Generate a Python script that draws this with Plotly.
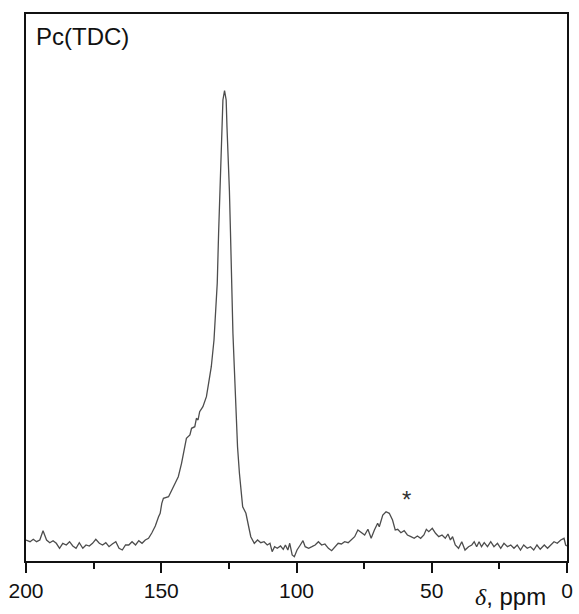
import plotly.graph_objects as go

# chemical shift (ppm) and intensity (arbitrary units)
ppm = [200.0, 198.5, 197.3, 196.1, 194.9, 193.7, 192.4, 191.2, 190.0, 188.8, 187.6, 186.4, 185.1,
       183.9, 182.7, 181.5, 180.3, 179.0, 177.8, 176.6, 175.4, 174.2, 172.9, 171.7, 170.5, 169.3,
       168.1, 166.8, 165.6, 164.4, 163.2, 162.0, 160.8, 159.5, 158.3, 157.1, 155.9, 154.7,
       153.5, 152.2, 151.0, 150.4, 149.8, 149.2, 147.3, 146.1, 144.9, 143.7, 142.5, 141.2, 140.7,
       139.4, 138.8, 137.6, 137.0, 136.4, 135.8, 134.6, 133.3, 132.5, 131.5, 130.5, 129.9, 129.3,
       128.8, 128.4, 128.3, 128.1, 127.6, 127.2, 126.6, 126.0, 125.7, 125.2, 124.8, 124.4, 124.0,
       123.5, 123.0, 122.6, 122.4, 121.8, 121.1, 120.5, 119.9, 118.7, 118.1, 117.5, 116.9, 115.6,
       114.4, 113.2, 112.0, 110.8, 109.8, 109.0, 108.1, 107.1, 105.9, 104.9, 104.1, 103.2, 102.5,
       101.6, 100.8, 99.8, 98.6, 97.6, 96.8, 95.5, 94.3, 93.1, 91.9, 90.7, 89.5, 88.2, 87.0, 85.8,
       84.6, 83.4, 82.2, 80.9, 79.7, 78.5, 77.3, 76.1, 74.8, 73.6, 72.4, 71.2, 70.0, 69.4, 68.1,
       66.9, 65.7, 64.5, 63.5, 62.6, 61.4, 60.2, 59.0, 57.7, 56.5, 55.3, 54.1, 52.9, 52.0, 51.1,
       49.8, 48.6, 47.4, 46.2, 45.0, 44.0, 43.1, 42.3, 41.3, 40.1, 38.9, 37.7, 36.4, 35.2, 34.3,
       33.4, 32.5, 31.6, 30.6, 29.4, 28.2, 27.0, 25.7, 24.5, 23.3, 22.0, 20.8, 19.6, 18.4, 17.2,
       16.0, 14.7, 13.5, 12.3, 11.1, 9.9, 8.4, 7.2, 6.0, 4.8, 3.6, 2.3, 1.1, 0.5, 0.0]
intensity = [21, 19.3, 21.7, 19.3, 21, 30.3, 21, 18.3, 20.3, 17.7, 12.7, 17.7, 16,
             19.3, 15, 12.7, 18.3, 12.7, 16, 15, 17.7, 21.7, 17.7, 16, 18.3, 14.3,
             17, 19.3, 12.7, 11, 16, 16, 19.3, 16, 20.3, 17.7, 21, 22.7,
             28, 35, 44.3, 47.7, 57.7, 62.7, 64.3, 71, 77.7, 84.3, 97.7, 114.3, 122.7,
             126, 132.7, 134.3, 142.7, 141, 149.3, 154.3, 164.3, 177.7, 194.3, 221, 244.3, 277.7,
             327.7, 361, 381, 401, 434.3, 461, 470.3, 461, 434, 401, 370, 327.7, 277.7,
             227.7, 194.3, 164.3, 147.7, 114.3, 87.7, 71, 54.3, 47.7, 41, 32, 24.3, 17.7,
             21, 18.3, 19.3, 16, 17.7, 9.3, 14.3, 12.7, 15, 11.7, 16, 11, 17.7,
             6, 4.3, 11, 16, 20.3, 14.3, 12.7, 14.3, 16, 19.3, 16, 17, 12.7, 10.3, 14.3,
             17.7, 17, 19.3, 18.3, 21, 24.3, 31, 28.3, 26, 31.7, 22.7, 31, 37.7, 34.3, 46,
             49.3, 47.7, 41, 31, 31.7, 28.3, 30.3, 26, 24.3, 22.7, 25, 22.7, 26, 31.7, 29.3,
             32.7, 27.7, 24.3, 26, 22.7, 27, 21, 24.3, 16, 12.7, 19.3, 11, 14.3, 16, 19.3,
             14.3, 19.3, 14.3, 18.3, 14.3, 19.3, 14.3, 17.7, 12.7, 17.7, 14.3, 16, 12.7, 16, 11,
             16, 12.7, 14.3, 11, 16, 11.7, 16, 12.7, 16, 19.3, 17.7, 21, 22.7, 16, 15]

x_ticks = [200, 150, 100, 50, 0]
x_tick_labels = ["200", "150", "100", "50", "0"]
sample_label = "Pc(TDC)"
marker_ppm = 59.2
marker_int = 62

fig = go.Figure()
fig.add_trace(go.Scatter(x=ppm, y=intensity, mode="lines",
                         line=dict(color="#4d4d4d", width=1.3), hoverinfo="skip"))

fig.update_layout(
    width=579, height=614,
    margin=dict(l=26, r=6, t=14, b=53),
    paper_bgcolor="white", plot_bgcolor="white",
    showlegend=False,
    font=dict(family="Liberation Sans, Arial, sans-serif", color="#111111"),
)
fig.update_xaxes(
    range=[200, 0], showgrid=False, zeroline=False,
    showline=True, linecolor="#111111", linewidth=2, mirror=True,
    ticks="outside", ticklen=10, tickwidth=1.5, tickcolor="#111111",
    tickvals=x_ticks, ticktext=x_tick_labels,
    tickfont=dict(size=21, color="#111111"),
    minor=dict(ticks="outside", ticklen=6, tickwidth=1.5, tickcolor="#111111", dtick=25, tick0=0),
)
fig.update_yaxes(
    range=[0, 547], showgrid=False, zeroline=False,
    showline=True, linecolor="#111111", linewidth=2, mirror=True,
    showticklabels=False, ticks="",
)
fig.add_annotation(xref="paper", yref="paper", x=0.014, y=0.988, xanchor="left", yanchor="top",
                   text=sample_label, showarrow=False, font=dict(size=24, color="#111111"))
fig.add_annotation(xref="x", yref="y", x=marker_ppm, y=marker_int, text="*", showarrow=False,
                   font=dict(size=24, color="#333333"), yanchor="middle")
fig.add_annotation(xref="paper", yref="paper", x=0.965, y=-0.036, xanchor="right", yanchor="top",
                   text="<span style='font-family:Liberation Serif;font-style:italic'>δ</span>, ppm",
                   showarrow=False, font=dict(size=24, color="#111111"))

fig.write_html(
    "out.html",
    config={"displayModeBar": False},
    post_script="document.body.style.margin='0';document.body.style.overflow='hidden';",
)
